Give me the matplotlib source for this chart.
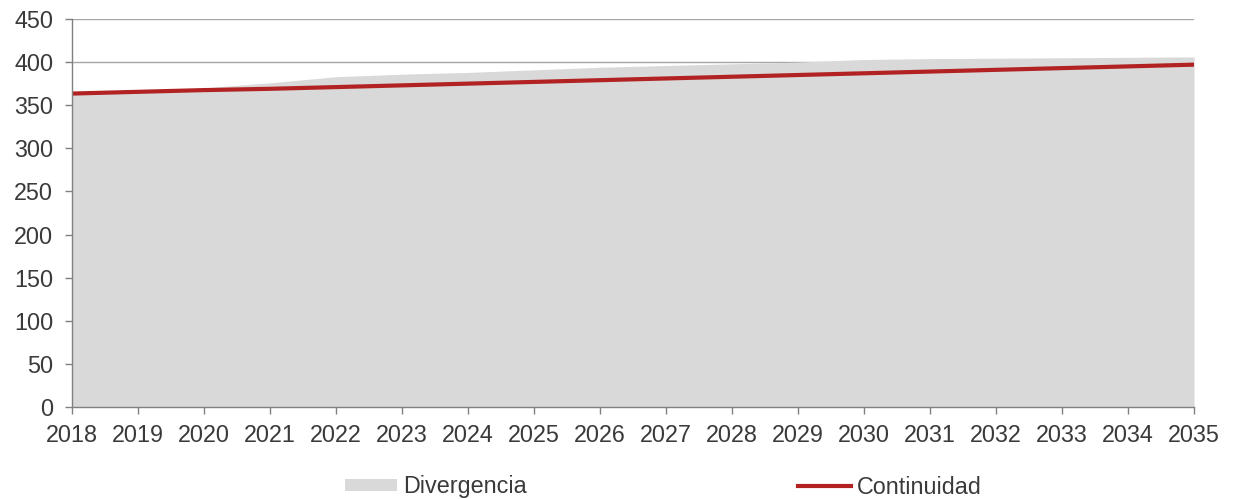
import numpy as np
import matplotlib.pyplot as plt
from matplotlib.patches import Patch
from matplotlib.lines import Line2D

plt.rcParams['font.family'] = ['Liberation Sans', 'DejaVu Sans']

years = list(range(2018, 2036))
# escenario de divergencia (area) y de continuidad (linea)
divergencia = [363.5, 366, 370, 376, 383, 386, 388, 391, 394, 396, 398, 400, 403, 404, 404.5, 405, 405.5, 406]
continuidad = [363.5, 365.5, 367.5, 369, 371, 373, 375, 377, 379, 381, 383, 385, 387, 389, 391, 393, 395, 397]

fill_col = '#d9d9d9'
line_col = '#b22222'
axis_col = '#808080'
text_col = '#3a3a3a'
fs = 16.8

fig = plt.figure(figsize=(12.33, 4.99), dpi=100)
ax = fig.add_axes([0.0584, 0.1844, 0.9100, 0.7776])

ax.fill_between(years, 0, divergencia, color=fill_col, lw=0, zorder=2)
ax.plot(years, continuidad, color=line_col, lw=3, zorder=3, solid_capstyle='butt')

ax.set_xlim(2018, 2035)
ax.set_ylim(0, 450)
ax.set_yticks(np.arange(0, 451, 50))
ax.set_xticks(years)
ax.grid(axis='y', color='#a6a6a6', lw=1)
ax.set_axisbelow(True)

for s in ['top', 'right']:
    ax.spines[s].set_visible(False)
for s in ['left', 'bottom']:
    ax.spines[s].set_color(axis_col)
    ax.spines[s].set_linewidth(1)
    ax.spines[s].set_zorder(4)
ax.tick_params(axis='both', colors=axis_col, length=5, width=1, labelsize=fs,
               labelcolor=text_col)
ax.tick_params(axis='y', pad=8.5)
ax.tick_params(axis='x', pad=7)

handles = [Patch(facecolor=fill_col, edgecolor='none'),
           Line2D([], [], color=line_col, lw=3)]
fig.legend(handles, ['Divergencia', 'Continuidad'], loc='center',
           bbox_to_anchor=(663 / 1233, 1 - 487 / 499), ncol=2, frameon=False,
           fontsize=fs, handlelength=2.26, handleheight=0.45, handletextpad=0.26,
           columnspacing=11.6, labelcolor=text_col, borderpad=0, borderaxespad=0)

fig.savefig('out.png', dpi=100)
